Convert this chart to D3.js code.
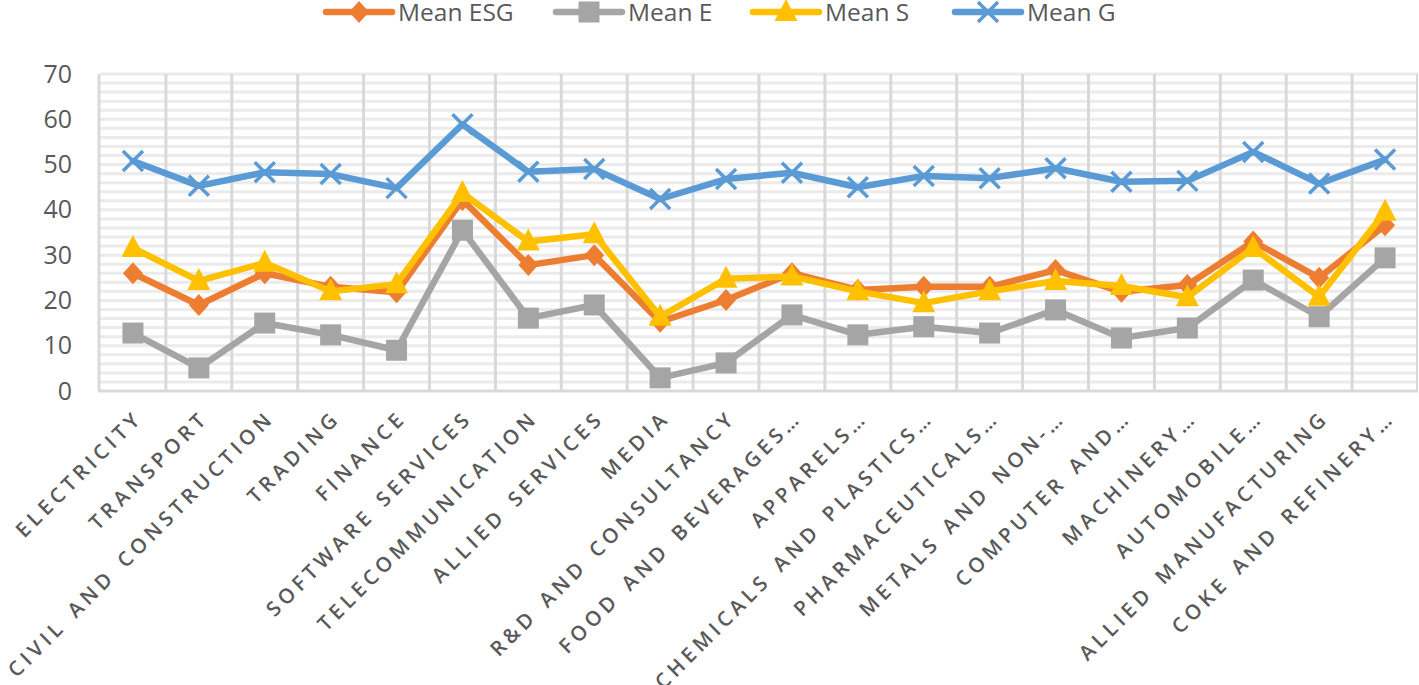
<!DOCTYPE html>
<html><head><meta charset="utf-8">
<script src="https://cdn.jsdelivr.net/npm/d3@7/dist/d3.min.js"></script>
<style>
html,body{margin:0;padding:0;background:#fff;}
svg{display:block;}
</style></head>
<body>
<svg id="chart" width="1419" height="685"></svg>
<script>
const categories = ["ELECTRICITY","TRANSPORT","CIVIL AND CONSTRUCTION","TRADING","FINANCE","SOFTWARE SERVICES","TELECOMMUNICATION","ALLIED SERVICES","MEDIA","R&D AND CONSULTANCY","FOOD AND BEVERAGES…","APPARELS…","CHEMICALS AND PLASTICS…","PHARMACEUTICALS…","METALS AND NON-…","COMPUTER AND…","MACHINERY…","AUTOMOBILE…","ALLIED MANUFACTURING","COKE AND REFINERY…"];
const meanESG = [26.0,19.0,26.0,23.0,21.8,42.2,27.8,30.0,15.3,20.1,26.0,22.3,23.0,23.0,26.7,21.9,23.4,33.0,25.0,36.6];
const meanE   = [12.8,5.1,15.0,12.4,9.0,35.5,16.1,19.0,2.9,6.2,16.8,12.4,14.2,12.8,17.9,11.7,13.9,24.5,16.4,29.4];
const meanS   = [31.6,24.3,28.3,22.0,23.6,43.7,33.0,34.6,16.4,24.8,25.3,22.0,19.4,22.0,24.3,23.2,20.7,31.6,20.8,39.6];
const meanG   = [50.8,45.3,48.3,47.9,44.8,58.9,48.4,49.0,42.4,46.8,48.2,45.0,47.5,47.0,49.2,46.2,46.4,52.8,45.8,51.1];
const yTicks  = [0,10,20,30,40,50,60,70];

const series = [
  {name:"Mean ESG", values:meanESG, color:"#ED7D31", marker:"diamond"},
  {name:"Mean E",   values:meanE,   color:"#A5A5A5", marker:"square"},
  {name:"Mean S",   values:meanS,   color:"#FFC000", marker:"triangle"},
  {name:"Mean G",   values:meanG,   color:"#5B9BD5", marker:"x"}
];

const svg = d3.select("#chart");
const L = 100, R = 1418, T = 74, B = 391;
const x = d3.scaleBand().domain(categories).range([L, R]).padding(0);
const y = d3.scaleLinear().domain([0,70]).range([B, T]);
const cx = d => x(d) + x.bandwidth()/2;

const g = svg.append("g");
g.selectAll("line.h").data(d3.range(2,71,2)).join("line")
  .attr("x1", L).attr("x2", R)
  .attr("y1", d=>y(d)).attr("y2", d=>y(d))
  .attr("stroke", "#ebebeb").attr("stroke-width", 3);
g.selectAll("line.v").data(categories.slice(1)).join("line")
  .attr("x1", d=>x(d)).attr("x2", d=>x(d))
  .attr("y1", T).attr("y2", B)
  .attr("stroke", "#d9d9d9").attr("stroke-width", 3);
g.append("line").attr("x1",L-1).attr("x2",L-1).attr("y1",T).attr("y2",B).attr("stroke","#d9d9d9").attr("stroke-width",3);
g.append("line").attr("x1",R-1).attr("x2",R-1).attr("y1",T).attr("y2",B).attr("stroke","#d9d9d9").attr("stroke-width",2);
g.append("line").attr("x1",L-2).attr("x2",R).attr("y1",B).attr("y2",B).attr("stroke","#d9d9d9").attr("stroke-width",3);

const yAxis = d3.axisLeft(y).tickValues(yTicks).tickSize(0).tickPadding(0);
const ya = svg.append("g").attr("transform", `translate(72,0)`).call(yAxis);
ya.select(".domain").remove();
ya.selectAll("text").attr("font-family","'Open Sans'").attr("font-size",25).attr("fill","#595959");

const xa = svg.append("g");
xa.selectAll("text").data(categories).join("text")
  .attr("transform", d=>`translate(${cx(d)+6},${414}) rotate(-45)`)
  .attr("text-anchor","end")
  .attr("dy","0.35em")
  .attr("font-family","'Open Sans'")
  .attr("font-size",20.5)
  .attr("font-weight",600)
  .attr("letter-spacing","4.4px")
  .attr("word-spacing","3px")
  .attr("fill","#595959")
  .text(d=>d);

function drawMarker(sel, type, color){
  if(type==="diamond"){
    sel.append("path").attr("d","M0,-11L10,0L0,11L-10,0Z").attr("fill",color);
  } else if(type==="square"){
    sel.append("rect").attr("x",-10.5).attr("y",-10.5).attr("width",21).attr("height",21).attr("fill",color);
  } else if(type==="triangle"){
    sel.append("path").attr("d","M0,-13L11.5,9L-11.5,9Z").attr("fill",color);
  } else {
    sel.append("path").attr("d","M-10,-10L10,10M-10,10L10,-10").attr("stroke",color).attr("stroke-width",3.5).attr("fill","none");
  }
}

const line = d3.line().x((v,i)=>cx(categories[i])).y(v=>y(v));
series.forEach(s=>{
  const sg = svg.append("g");
  sg.append("path").datum(s.values).attr("d", line)
    .attr("fill","none").attr("stroke", s.color).attr("stroke-width", 6.5)
    .attr("stroke-linejoin","round").attr("stroke-linecap","round");
  sg.selectAll("g.m").data(s.values).join("g")
    .attr("transform",(v,i)=>`translate(${cx(categories[i])},${y(v)})`)
    .each(function(){ drawMarker(d3.select(this), s.marker, s.color); });
});

const legendX = [326, 556, 753, 955];
const lg = svg.append("g");
series.forEach((s,i)=>{
  const it = lg.append("g").attr("transform",`translate(${legendX[i]},12)`);
  it.append("line").attr("x1",0).attr("x2",66).attr("y1",0).attr("y2",0)
    .attr("stroke",s.color).attr("stroke-width",6.5).attr("stroke-linecap","round");
  const m = it.append("g").attr("transform","translate(33,0)");
  drawMarker(m, s.marker, s.color);
  it.append("text").attr("x",72).attr("y",0).attr("dy","0.36em")
    .attr("font-family","'Open Sans'").attr("font-size",24.5).attr("fill","#595959")
    .text(s.name);
});
</script>
</body></html>
